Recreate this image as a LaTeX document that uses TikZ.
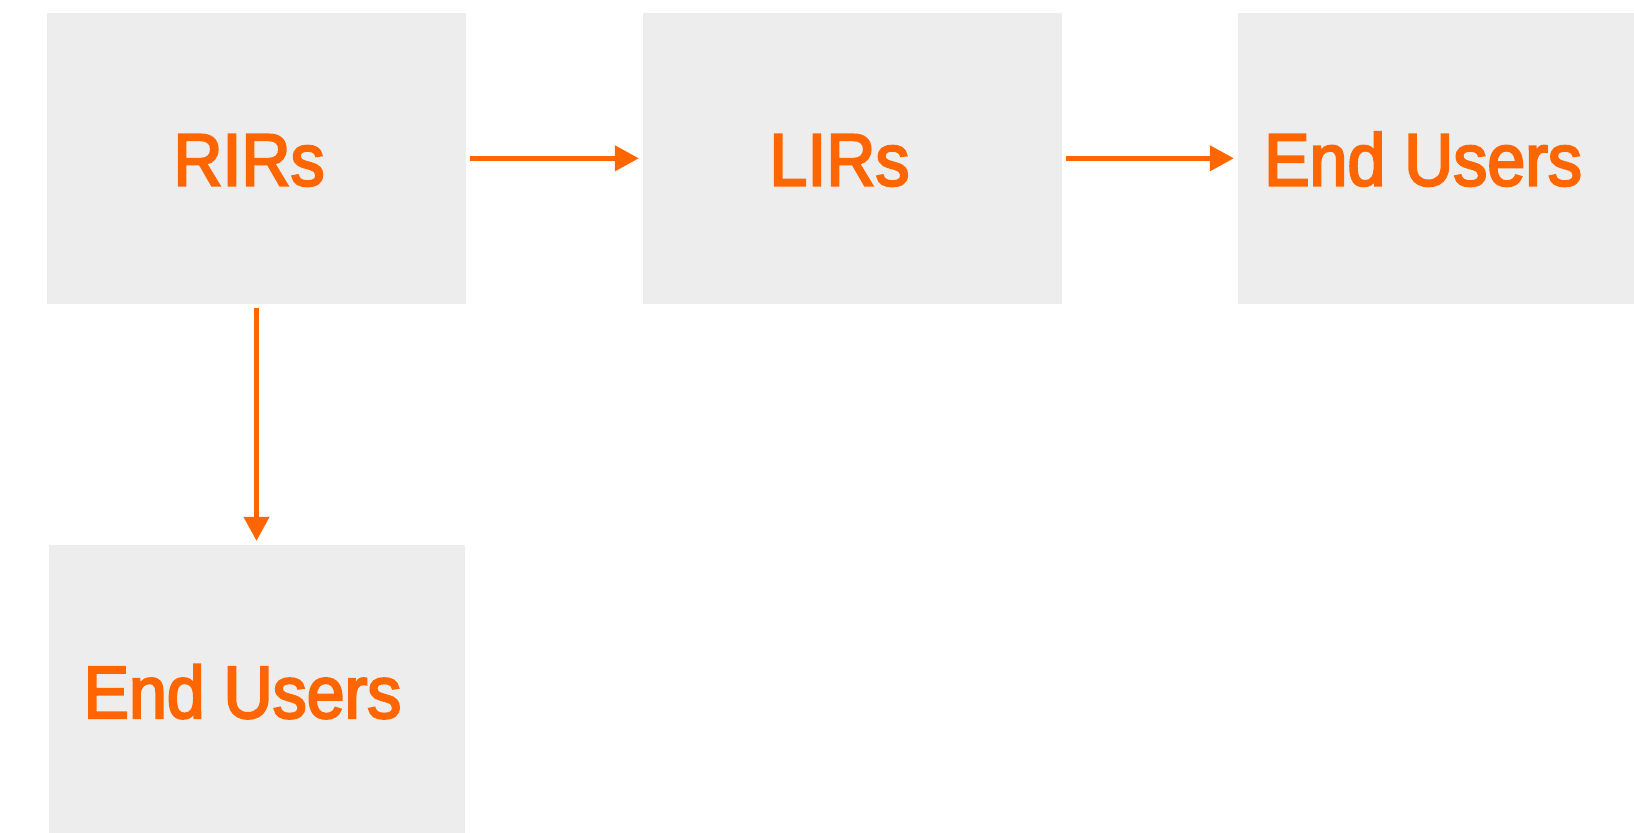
\documentclass[tikz,border=0pt]{standalone}
\usepackage{fontspec}
\setmainfont{Liberation Sans}[FakeStretch=0.92,FakeBold=3]
\usetikzlibrary{arrows.meta}
\definecolor{boxgray}{HTML}{EDEDED}
\definecolor{orng}{HTML}{FF6600}
\tikzset{
  box/.style={fill=boxgray, draw=none, minimum width=419pt, minimum height=291.5pt, inner sep=0pt},
  lbl/.style={text=orng, font=\fontsize{74}{80}\selectfont, inner sep=0pt, anchor=base},
  flow/.style={draw=orng, line width=4.5pt, -{Triangle[length=24pt,width=25pt]}, shorten <=4pt, shorten >=4pt}
}
\begin{document}
\begin{tikzpicture}[x=1pt,y=-1pt]
\clip (0,0) rectangle (1634,833);
\fill[white] (0,0) rectangle (1634,833);
\node[box] (rir) at (256.5,158.3) {};
\node[box] (lir) at (852.5,158.3) {};
\node[box] (eu1) at (1447.5,158.3) {};
\node[box, minimum width=416pt] (eu2) at (256.5,690.75) {};
\node[lbl] (trir) at (249,185.5) {RIRs};
\node[lbl] (tlir) at (839.5,185.5) {LIRs};
\node[lbl, anchor=base west] (teu1) at (1264,185.5) {End Users};
\node[lbl] (teu2) at (242.5,718) {End Users};
\draw[flow] (rir.east) -- (lir.west);
\draw[flow] (lir.east) -- (eu1.west);
\draw[flow] (rir.south) -- (eu2.north);
\end{tikzpicture}
\end{document}
